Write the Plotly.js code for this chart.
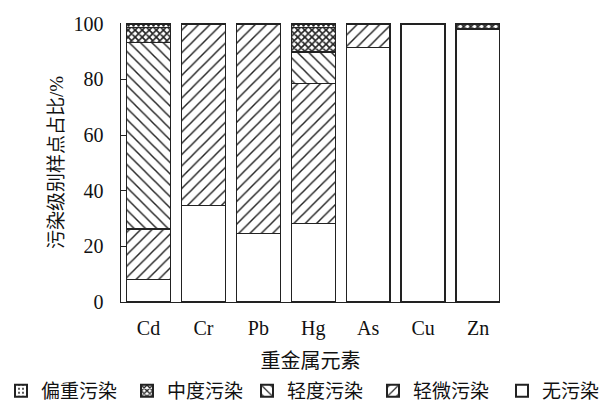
<!DOCTYPE html>
<html>
<head>
<meta charset="utf-8">
<script src="https://cdn.plot.ly/plotly-3.0.1.min.js"></script>
<style>html,body{margin:0;padding:0;background:#fff;}#chart{width:609px;height:403px;}</style>
</head>
<body>
<div id="chart"></div>
<script>
const elements = ['Cd', 'Cr', 'Pb', 'Hg', 'As', 'Cu', 'Zn'];
const none_ = [8.0, 34.7, 24.7, 28.3, 91.6, 100, 98.2];
const slight = [18.3, 65.3, 75.3, 50.2, 8.4, 0, 0];
const light = [67.0, 0, 0, 11.4, 0, 0, 0];
const moderate = [5.3, 0, 0, 8.7, 0, 0, 1.8];
const heavy = [1.4, 0, 0, 1.4, 0, 0, 0];
const seriesNames = ['无污染', '轻微污染', '轻度污染', '中度污染', '偏重污染'];
const yTicks = [0, 20, 40, 60, 80, 100];

const fontFam = 'Liberation Serif, Noto Sans CJK SC, serif';
const patterns = [
  {shape: '', fgcolor: '#000', bgcolor: '#fff'},
  {shape: '/', fgcolor: '#222', bgcolor: '#fff', size: 8, solidity: 0.18},
  {shape: '\\', fgcolor: '#222', bgcolor: '#fff', size: 8, solidity: 0.18},
  {shape: 'x', fgcolor: '#222', bgcolor: '#fff', size: 5, solidity: 0.55},
  {shape: '.', fgcolor: '#222', bgcolor: '#fff', size: 5, solidity: 0.2}
];
const legendOf = ['legend3', 'legend2', 'legend2', 'legend', 'legend'];
const data = [none_, slight, light, moderate, heavy].map((vals, i) => ({
  type: 'bar',
  name: seriesNames[i],
  legend: legendOf[i],
  x: elements,
  y: vals,
  width: 0.8,
  marker: {color: '#fff', line: {color: '#222', width: 1.4}, pattern: patterns[i]},
  hoverinfo: 'skip'
}));

const legendBase = {
  orientation: 'h', traceorder: 'reversed',
  xref: 'container', yref: 'container',
  xanchor: 'left', yanchor: 'middle', y: 0.03,
  font: {family: fontFam, size: 19, color: '#111'},
  itemwidth: 30, tracegroupgap: 0, itemsizing: 'constant',
  entrywidth: 81, entrywidthmode: 'pixels',
  bgcolor: 'rgba(0,0,0,0)'
};

const layout = {
  width: 609, height: 403,
  margin: {l: 121, r: 109, t: 23, b: 101},
  barmode: 'stack',
  paper_bgcolor: '#fff', plot_bgcolor: '#fff',
  font: {family: fontFam, size: 20, color: '#111'},
  showlegend: true,
  legend: Object.assign({}, legendBase, {x: 1 / 609}),
  legend2: Object.assign({}, legendBase, {x: 247 / 609}),
  legend3: Object.assign({}, legendBase, {x: 502 / 609}),
  xaxis: {
    range: [-0.5, 6.4],
    showline: true, linecolor: '#222', linewidth: 1.4,
    ticks: '', showgrid: false, zeroline: false,
    ticklabelstandoff: 8,
    tickfont: {family: fontFam, size: 20},
    title: {text: '重金属元素', font: {family: fontFam, size: 20}, standoff: 20}
  },
  yaxis: {
    range: [0, 100.3],
    tickvals: yTicks,
    showline: true, linecolor: '#222', linewidth: 1.4,
    ticks: 'inside', ticklen: 6, tickcolor: '#222',
    ticklabelstandoff: 12,
    showgrid: false, zeroline: false,
    tickfont: {family: fontFam, size: 20},
    title: {text: '污染级别样点占比/%', font: {family: fontFam, size: 19}, standoff: 5}
  }
};
Plotly.newPlot('chart', data, layout, {staticPlot: true});
</script>
</body>
</html>
